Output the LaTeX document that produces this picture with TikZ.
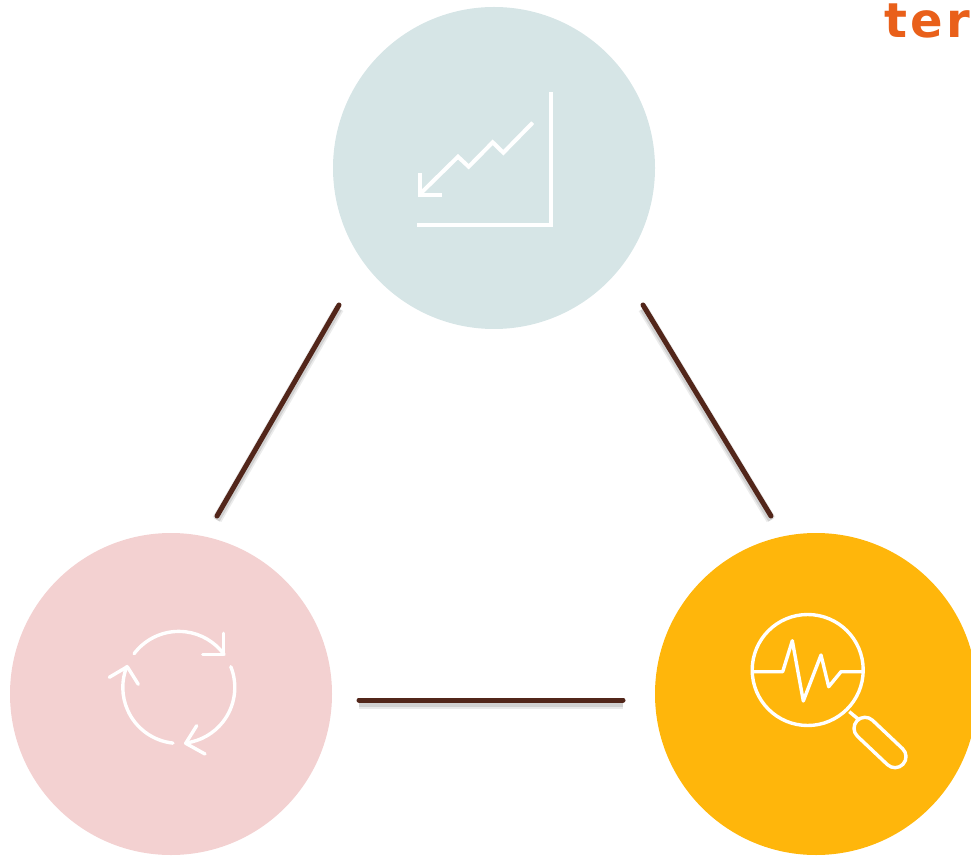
\documentclass[tikz,border=0pt]{standalone}
\usepackage{fontspec}
\setmainfont{DejaVu Sans}[LetterSpace=7]
\definecolor{blobteal}{HTML}{D6E5E6}
\definecolor{blobpink}{HTML}{F3D1D1}
\definecolor{blobamber}{HTML}{FFB60B}
\definecolor{linkbrown}{HTML}{52261A}
\definecolor{brandorange}{HTML}{E9601A}
\tikzset{
  blob/.style={circle, draw=none, minimum size=322pt, inner sep=0pt},
  icon/.style={draw=white, line width=3.4pt, fill=none},
  link/.style={draw=linkbrown, line width=5pt, line cap=round,
    preaction={draw=black!8, line width=10pt, line cap=butt, transform canvas={yshift=-3.5pt}},
    preaction={draw=black!18, line width=6pt, line cap=butt, transform canvas={yshift=-4pt}}}
}
\begin{document}
\begin{tikzpicture}[x=1pt,y=1pt]
      \clip (0,0) rectangle (971,855);
      \node[blob, fill=blobteal]  (top)   at (494,687) {};
      \node[blob, fill=blobpink]  (left)  at (171,161) {};
      \node[blob, fill=blobamber] (right) at (816,161) {};
      \node[anchor=base west, inner sep=0pt, text=brandorange, font=\fontsize{48}{48}\selectfont\bfseries] (brand) at (884,817) {ter};
      % connector ends
      \coordinate (topleft)   at (339,550);
      \coordinate (lefttop)   at (217,339);
      \coordinate (topright)  at (643,550);
      \coordinate (righttop)  at (771,339);
      \coordinate (leftside)  at (359,155);
      \coordinate (rightside) at (623,155);
      \draw[link] (topleft) -- (lefttop);
      \draw[link] (topright) -- (righttop);
      \draw[link] (leftside) -- (rightside);
      % chart icon
      \draw[icon, line width=4pt] (417,630) -- (551,630) -- (551,763);
      \draw[icon, line width=4pt] (532.7,732.3) -- (503.3,702.3) -- (492.7,712.7) -- (468.7,688.3) -- (458,698.3) -- (420,661);
      \draw[icon, line width=4pt] (420,681.7) -- (420,660) -- (441.7,660);
      % cycle icon
      \begin{scope}[shift={(178.8,167.6)}, icon, line cap=round, line join=round]
        \draw[icon] (143:56) arc[start angle=143, end angle=36, radius=56];
        \draw[icon] (21.7:56) arc[start angle=21.7, end angle=-82, radius=56];
        \draw[icon] (-96:56) arc[start angle=-96, end angle=-202, radius=56];
      \end{scope}
      \draw[icon, line cap=round, line join=round] (223.3,221.7) -- (223.3,200.7) -- (202.7,200.7);
      \draw[icon, line cap=round, line join=round] (196.7,129.3) -- (185.7,111.7) -- (205,101);
      \draw[icon, line cap=round, line join=round] (138.3,170.7) -- (127.3,188.3) -- (109.3,177.7);
      % magnifier icon
      \draw[icon] (807.7,185) circle[radius=55.5];
      \draw[icon, line join=round] (753.3,183.3) -- (782.7,183.3) -- (792.3,214.3) -- (803.3,154) -- (821,200) -- (828.7,168.3) -- (841,183.3) -- (862.3,183.3);
      \draw[icon] (849.3,143.3) -- (859.3,135);
      \begin{scope}[shift={(865,126.7)}, rotate=-43.4]
        \draw[icon] (0,11) -- (41.3,11) arc[start angle=90, end angle=-90, radius=11] -- (0,-11) arc[start angle=270, end angle=90, radius=11] -- cycle;
      \end{scope}
    \end{tikzpicture}
\end{document}
